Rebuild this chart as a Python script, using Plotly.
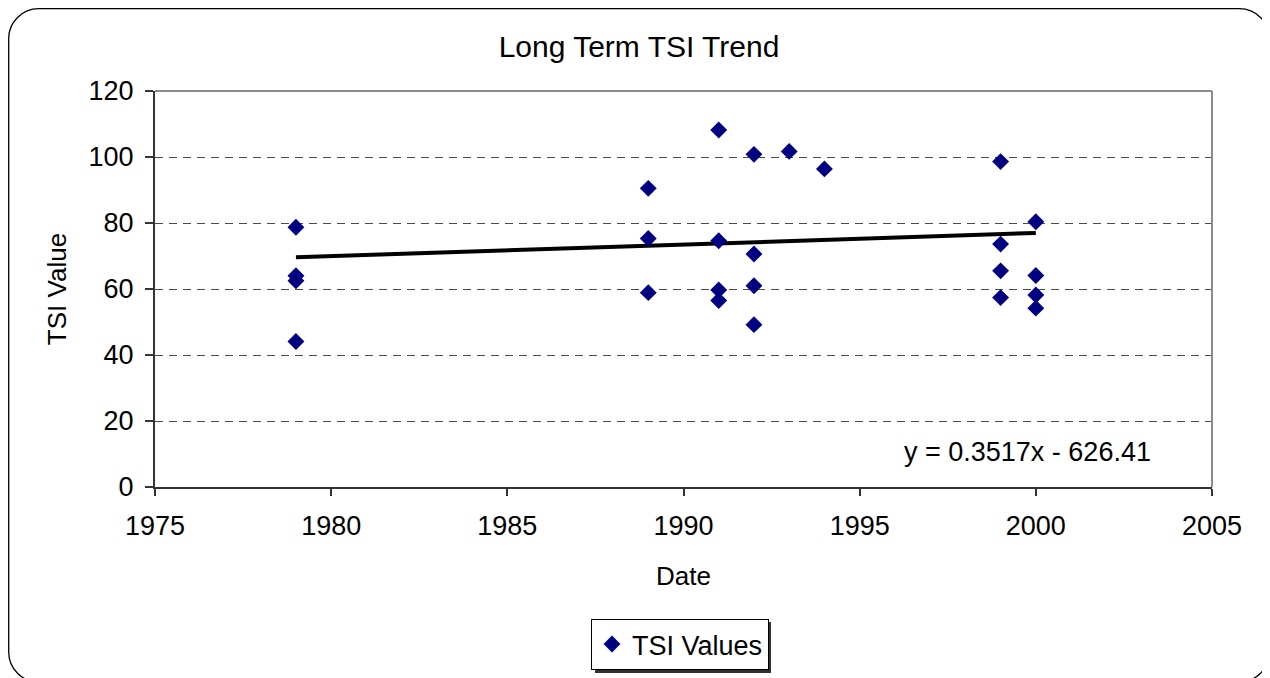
import plotly.graph_objects as go

# ---- data ----
years = [1979, 1979, 1979, 1979,
         1989, 1989, 1989,
         1991, 1991, 1991, 1991,
         1992, 1992, 1992, 1992,
         1993, 1994,
         1999, 1999, 1999, 1999,
         2000, 2000, 2000, 2000]
tsi_values = [78.7, 64.0, 62.5, 44.1,
              90.5, 75.3, 58.9,
              108.2, 74.6, 59.7, 56.5,
              100.8, 70.6, 61.0, 49.2,
              101.7, 96.4,
              98.6, 73.6, 65.5, 57.4,
              80.4, 64.1, 58.2, 54.2]
trend_slope = 0.3517
trend_intercept = -626.41
trend_years = [min(years), max(years)]
trend_values = [trend_slope * x + trend_intercept for x in trend_years]
equation_text = "y = 0.3517x - 626.41"

x_ticks = [1975, 1980, 1985, 1990, 1995, 2000, 2005]
y_ticks = [0, 20, 40, 60, 80, 100, 120]

# ---- layout geometry (screen pixels; page body adds an 8px offset) ----
OFF = 8
W, H = 1270 - OFF, 678 - OFF
AX_L, AX_R, AX_T, AX_B = 155, 1212, 91, 487   # plot area in screen px
ML = AX_L - OFF
MT = AX_T - OFF
MR = W - (AX_R - OFF)
MB = H - (AX_B - OFF)
PW = W - ML - MR
PH = H - MT - MB
FONT = "Liberation Sans, Arial, sans-serif"


def px2paper(sx, sy):
    fx, fy = sx - OFF, sy - OFF
    return (fx - ML) / PW, (H - MB - fy) / PH


fig = go.Figure()

fig.add_trace(go.Scatter(
    x=trend_years, y=trend_values, mode="lines",
    line=dict(color="black", width=4),
    showlegend=False, hoverinfo="skip"))

fig.add_trace(go.Scatter(
    x=years, y=tsi_values, mode="markers", name="TSI Values",
    marker=dict(symbol="diamond", size=13, color="#000080",
                line=dict(width=0))))

# outer rounded frame (screen px)
x0, y0, x1, y1, r = OFF + 0.7, OFF + 0.7, 1269.3, 682, 30
k = 0.5523 * r


def P(sx, sy):
    a, b = px2paper(sx, sy)
    return f"{a:.5f},{b:.5f}"


frame = (f"M {P(x0 + r, y0)} L {P(x1 - r, y0)} "
         f"C {P(x1 - r + k, y0)} {P(x1, y0 + r - k)} {P(x1, y0 + r)} "
         f"L {P(x1, y1 - r)} "
         f"C {P(x1, y1 - r + k)} {P(x1 - r + k, y1)} {P(x1 - r, y1)} "
         f"L {P(x0 + r, y1)} "
         f"C {P(x0 + r - k, y1)} {P(x0, y1 - r + k)} {P(x0, y1 - r)} "
         f"L {P(x0, y0 + r)} "
         f"C {P(x0, y0 + r - k)} {P(x0 + r - k, y0)} {P(x0 + r, y0)} Z")

shapes = [
    dict(type="path", path=frame, xref="paper", yref="paper",
         line=dict(color="black", width=1.3), layer="above"),
    # plot-area border (top and right)
    dict(type="line", xref="paper", yref="paper", x0=0, x1=1, y0=1, y1=1,
         line=dict(color="#8c8c8c", width=2)),
    dict(type="line", xref="paper", yref="paper", x0=1, x1=1, y0=0, y1=1,
         line=dict(color="#8c8c8c", width=2)),
]

# legend shadow
lx0, ly0 = px2paper(595, 622)
lx1, ly1 = px2paper(771, 673)
shapes.append(dict(type="rect", xref="paper", yref="paper",
                   x0=lx0, x1=lx1, y0=ly1, y1=ly0,
                   fillcolor="#333333", line=dict(width=0), layer="above"))

eq_x, eq_y = px2paper(1027.5, 452)

fig.update_layout(
    width=W, height=H,
    margin=dict(l=ML, r=MR, t=MT, b=MB, autoexpand=False),
    paper_bgcolor="white", plot_bgcolor="white",
    font=dict(family=FONT, size=27, color="black"),
    title=dict(text="Long Term TSI Trend", x=(639 - OFF) / W, xanchor="center",
               y=1 - (46 - OFF) / H, yanchor="middle", yref="container",
               font=dict(size=30)),
    xaxis=dict(range=[1975, 2005], tickvals=x_ticks, showgrid=False,
               zeroline=False, showline=True, linecolor="#333333", linewidth=2,
               ticks="outside", ticklen=7, tickwidth=1.5, tickcolor="#333333",
               ticklabelstandoff=7,
               title=dict(text="Date", standoff=26, font=dict(size=26))),
    yaxis=dict(range=[0, 120], tickvals=y_ticks, showgrid=True,
               gridcolor="#4a4a4a", gridwidth=1.3, griddash="8px,6px",
               zeroline=False, showline=True, linecolor="#333333", linewidth=2,
               ticks="outside", ticklen=8, tickwidth=1.5, tickcolor="#333333",
               ticklabelstandoff=6,
               title=dict(text="TSI Value", standoff=14, font=dict(size=26))),
    legend=dict(x=(680 - OFF) / W, y=1 - (619 - OFF) / H,
                xref="container", yref="container",
                xanchor="center", yanchor="top",
                bgcolor="white", bordercolor="black", borderwidth=1,
                font=dict(size=27)),
    shapes=shapes,
    annotations=[dict(text=equation_text, x=eq_x, y=eq_y, xref="paper",
                      yref="paper", showarrow=False, xanchor="center",
                      yanchor="middle", font=dict(size=27))],
    showlegend=True,
)

fig.write_html("out.html")
